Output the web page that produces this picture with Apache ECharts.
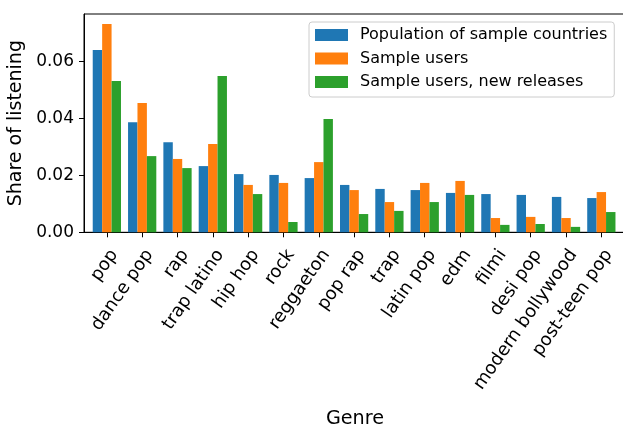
<!DOCTYPE html>
<html>
<head>
<meta charset="utf-8">
<script src="https://cdn.jsdelivr.net/npm/echarts@6/dist/echarts.min.js"></script>
<style>
html,body{margin:0;padding:0;background:#fff;}
#chart{width:623px;height:424px;}
</style>
</head>
<body>
<div id="chart"></div>
<script>
var categories = ['pop','dance pop','rap','trap latino','hip hop','rock','reggaeton','pop rap','trap','latin pop','edm','filmi','desi pop','modern bollywood','post-teen pop'];
var seriesNames = ['Population of sample countries','Sample users','Sample users, new releases'];
var population = [0.0639,0.0386,0.0316,0.0232,0.0204,0.0201,0.0190,0.0166,0.0152,0.0148,0.0138,0.0134,0.0131,0.0124,0.0120];
var sampleUsers = [0.0730,0.0453,0.0257,0.0309,0.0166,0.0173,0.0246,0.0148,0.0106,0.0173,0.0180,0.0050,0.0054,0.0050,0.0141];
var newReleases = [0.0530,0.0267,0.0225,0.0548,0.0134,0.0036,0.0397,0.0064,0.0075,0.0106,0.0131,0.0026,0.0029,0.0019,0.0071];
var yTicks = [0, 0.02, 0.04, 0.06];
var yMax = 0.0765;

var font = 'DejaVu Sans';
var colors = ['#1f77b4','#ff7f0e','#2ca02c'];
var chart = echarts.init(document.getElementById('chart'), null, {renderer:'canvas', devicePixelRatio:1});

chart.setOption({
  animation: false,
  color: colors,
  textStyle: {fontFamily: font, color: '#000'},
  grid: [
    {left: 84, top: 14, right: -3, height: 218.3, outerBoundsMode: 'none', containLabel: false,
     show: true, borderColor: '#000', borderWidth: 1, backgroundColor: 'transparent'},
    {left: 89.2, top: 14, width: 529.8, height: 218.3, outerBoundsMode: 'none', containLabel: false}
  ],
  legend: {
    data: seriesNames,
    orient: 'vertical',
    left: 309, top: 22,
    icon: 'rect',
    itemWidth: 33, itemHeight: 12, itemGap: 5.5,
    padding: [4, 7, 6, 6],
    borderColor: '#cccccc', borderWidth: 1, borderRadius: 3,
    backgroundColor: 'rgba(255,255,255,0.8)',
    textStyle: {fontFamily: font, fontSize: 16, lineHeight: 18, color: '#000', padding: [0,0,0,7]}
  },
  xAxis: [
    {gridIndex: 0, type: 'value', min: 0, max: 1,
     name: 'Genre', nameLocation: 'middle', nameGap: 177,
     nameTextStyle: {fontFamily: font, fontSize: 19.2, color: '#000'},
     axisLine: {show: true, lineStyle: {color: '#000', width: 1}},
     axisTick: {show: false}, axisLabel: {show: false}, splitLine: {show: false}},
    {gridIndex: 1, type: 'category', data: categories,
     axisLine: {show: false},
     axisTick: {show: true, alignWithLabel: true, length: 5, lineStyle: {color: '#000', width: 1}},
     axisLabel: {rotate: 55, interval: 0, margin: 14, fontFamily: font, fontSize: 18, color: '#000', verticalAlign: 'top'},
     splitLine: {show: false}}
  ],
  yAxis: [
    {gridIndex: 0, type: 'value', min: 0, max: yMax,
     name: 'Share of listening', nameLocation: 'middle', nameGap: 52,
     nameTextStyle: {fontFamily: font, fontSize: 19, color: '#000'},
     axisLine: {show: true, lineStyle: {color: '#000', width: 1}},
     axisTick: {show: true, length: 5, customValues: yTicks, lineStyle: {color: '#000', width: 1}},
     axisLabel: {customValues: yTicks, margin: 10, fontFamily: font, fontSize: 17, color: '#000',
                 formatter: function (v) { return v.toFixed(2); }},
     splitLine: {show: false}},
    {gridIndex: 1, type: 'value', min: 0, max: yMax, show: false, splitLine: {show: false}}
  ],
  series: [
    {name: seriesNames[0], type: 'bar', xAxisIndex: 1, yAxisIndex: 1, data: population, barGap: '0%', barCategoryGap: '20%'},
    {name: seriesNames[1], type: 'bar', xAxisIndex: 1, yAxisIndex: 1, data: sampleUsers, barGap: '0%', barCategoryGap: '20%'},
    {name: seriesNames[2], type: 'bar', xAxisIndex: 1, yAxisIndex: 1, data: newReleases, barGap: '0%', barCategoryGap: '20%'}
  ]
});
</script>
</body>
</html>
